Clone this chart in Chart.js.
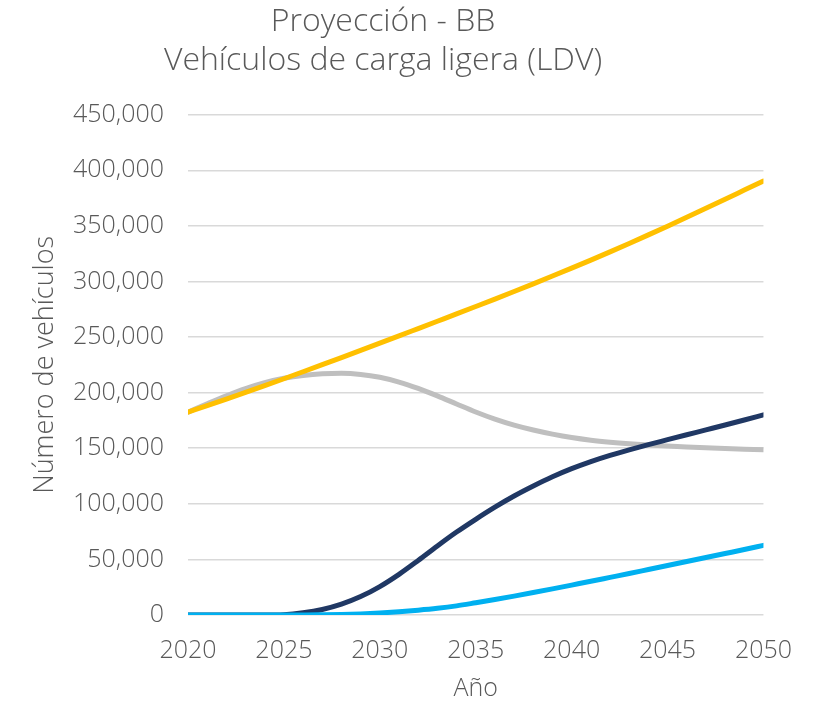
<!DOCTYPE html>
<html lang="es">
<head>
<meta charset="utf-8">
<title>Proyección - BB</title>
<script src="https://cdn.jsdelivr.net/npm/chart.js@4/dist/chart.umd.min.js"></script>
<style>
  html, body { margin: 0; padding: 0; background: #ffffff; }
  #wrap { width: 813px; height: 701px; position: relative; }
</style>
</head>
<body>
<div id="wrap"><canvas id="chart"></canvas></div>
<script>
// Años de la proyección
const years = [2020, 2021, 2022, 2023, 2024, 2025, 2026, 2027, 2028, 2029, 2030,
               2031, 2032, 2033, 2034, 2035, 2036, 2037, 2038, 2039, 2040,
               2041, 2042, 2043, 2044, 2045, 2046, 2047, 2048, 2049, 2050];

// Flota total de LDV (amarillo)
const total = [182500, 188300, 194200, 200200, 206300, 212500, 218800, 225150, 231550, 238000, 244500,
               251050, 257650, 264250, 270850, 277500, 284200, 291000, 297900, 304900, 312000,
               319250, 326650, 334200, 341900, 349750, 357750, 365850, 374000, 382200, 390400];

// Vehículos de combustión (gris)
const combustion = [182500, 190000, 197200, 203700, 209000, 212900, 215500, 217000, 217400, 216400, 213800,
                    209500, 203800, 197100, 189800, 182600, 176200, 170800, 166400, 162700, 159600,
                    157200, 155400, 154000, 152900, 152000, 151200, 150500, 149800, 149200, 148600];

// Vehículos eléctricos de batería (azul oscuro)
const electricos = [0, 0, 0, 0, 0, 300, 2000, 5000, 9800, 16600, 25600,
                    36600, 49100, 62100, 74600, 86100, 97000, 107000, 116000, 124300, 131600,
                    138000, 143600, 148600, 153300, 157700, 162100, 166500, 170900, 175400, 180000];

// Vehículos de hidrógeno (azul claro)
const hidrogeno = [0, 0, 0, 0, 0, 0, 0, 200, 500, 1000, 1800,
                   2900, 4300, 6000, 8200, 11000, 13900, 17000, 20200, 23500, 26900,
                   30300, 33800, 37300, 40900, 44500, 48100, 51700, 55300, 58900, 62600];

const xTicks = [2020, 2025, 2030, 2035, 2040, 2045, 2050];
const yMax = 450000;
const yStep = 50000;

const textColor = '#595959';
const fontFamily = "'Open Sans', 'Noto Sans', sans-serif";

function toPoints(values) {
  return years.map((y, i) => ({ x: y, y: values[i] }));
}

function lineSet(label, values, color, width) {
  return {
    label: label,
    data: toPoints(values),
    borderColor: color,
    backgroundColor: color,
    borderWidth: width,
    pointRadius: 0,
    pointHoverRadius: 0,
    fill: false,
    cubicInterpolationMode: 'monotone',
    borderCapStyle: 'round',
    borderJoinStyle: 'round'
  };
}

const fmt = new Intl.NumberFormat('en-US');

new Chart(document.getElementById('chart'), {
  type: 'line',
  data: {
    datasets: [
      lineSet('Total', total, '#FFC000', 5),
      lineSet('Hidrógeno', hidrogeno, '#00B0F0', 5),
      lineSet('Eléctricos', electricos, '#203864', 5),
      lineSet('Combustión', combustion, '#BFBFBF', 5)
    ]
  },
  options: {
    responsive: true,
    maintainAspectRatio: false,
    animation: false,
    layout: { padding: { left: 0, right: 47, top: 0, bottom: 0 } },
    plugins: {
      legend: { display: false },
      tooltip: { enabled: false },
      title: {
        display: true,
        text: ['Proyección - BB', 'Vehículos de carga ligera (LDV)'],
        color: textColor,
        font: { family: fontFamily, size: 32, weight: '300', lineHeight: 1.23 },
        padding: { top: 2, bottom: 34 }
      }
    },
    scales: {
      x: {
        type: 'linear',
        min: 2020,
        max: 2050,
        afterBuildTicks: (scale) => { scale.ticks = xTicks.map(v => ({ value: v })); },
        afterFit: (scale) => { scale.height = 86; },
        grid: { display: false, drawTicks: false },
        border: { display: false },
        ticks: {
          color: textColor,
          padding: 21,
          maxRotation: 0,
          font: { family: fontFamily, size: 25, weight: '300' },
          callback: (v) => String(v)
        },
        title: {
          display: true,
          text: 'Año',
          color: textColor,
          font: { family: fontFamily, size: 25, weight: '300', lineHeight: 1.0 },
          padding: { top: 0, bottom: 0 }
        }
      },
      y: {
        min: 0,
        max: yMax,
        afterFit: (scale) => { scale.width = 188; },
        grid: { color: '#D9D9D9', lineWidth: 1.5, drawTicks: false },
        border: { display: false },
        ticks: {
          stepSize: yStep,
          color: textColor,
          padding: 24,
          font: { family: fontFamily, size: 25, weight: '300' },
          callback: (v) => fmt.format(v)
        },
        title: {
          display: true,
          text: 'Número de vehículos',
          color: textColor,
          font: { family: fontFamily, size: 27, weight: '300', lineHeight: 1.2 },
          padding: { top: 29, bottom: 0 }
        }
      }
    }
  }
});
</script>
</body>
</html>
